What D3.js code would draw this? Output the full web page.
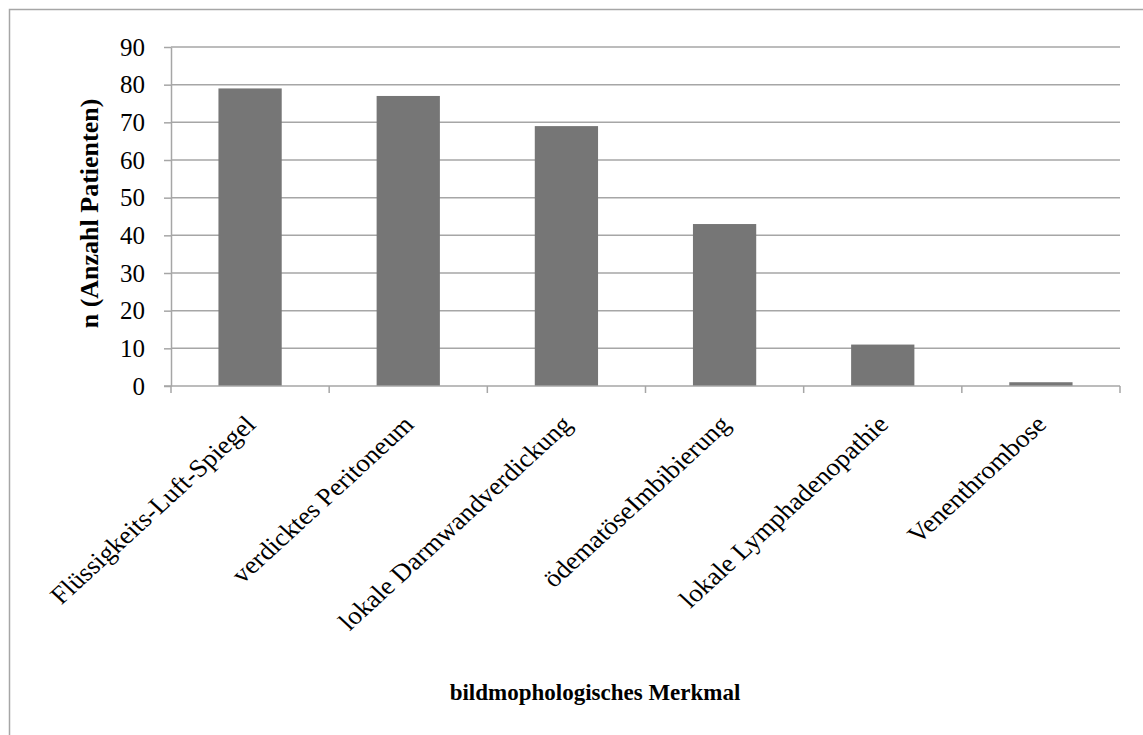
<!DOCTYPE html>
<html>
<head>
<meta charset="utf-8">
<script src="https://cdn.jsdelivr.net/npm/d3@7"></script>
<style>
  body { margin: 0; background: #fff; }
  svg text { font-family: "Liberation Serif", "Times New Roman", serif; fill: #000; }
</style>
</head>
<body>
<div id="main"></div>
<script>
const categories = ["Flüssigkeits-Luft-Spiegel", "verdicktes Peritoneum", "lokale Darmwandverdickung",
    "ödematöseImbibierung", "lokale Lymphadenopathie", "Venenthrombose"];
const patients = [79, 77, 69, 43, 11, 1];
const yTicks = [0, 10, 20, 30, 40, 50, 60, 70, 80, 90];
const yTitle = "n (Anzahl Patienten)";
const xTitle = "bildmophologisches Merkmal";

onload = () => {
    const d3 = window.d3;
    let svg = d3.select("#main").append("svg")
        .attr("width", 1143).attr("height", 735);

    // outer frame
    svg.append("rect")
        .attr("x", 9.5).attr("y", 9.5)
        .attr("width", 1143).attr("height", 740)
        .attr("fill", "none").attr("stroke", "#a6a6a6").attr("stroke-width", 1.5);

    const left = 171, right = 1120, top = 47, bottom = 386;

    let yScale = d3.scaleLinear().domain([0, 90]).range([bottom, top]);
    let xScale = d3.scaleBand().domain(categories).range([left, right])
        .paddingInner(0.6).paddingOuter(0.3);
    let xBand = d3.scaleBand().domain(categories).range([left, right]);

    // grid
    svg.append("g").selectAll("line").data(yTicks.filter(d => d > 0)).join("line")
        .attr("x1", left).attr("x2", right)
        .attr("y1", d => yScale(d)).attr("y2", d => yScale(d))
        .attr("stroke", "#a6a6a6").attr("stroke-width", 1.5);

    // bars
    svg.append("g").selectAll("rect").data(patients).join("rect")
        .attr("x", (d, i) => xScale(categories[i]))
        .attr("width", xScale.bandwidth())
        .attr("y", d => yScale(d))
        .attr("height", d => bottom - yScale(d))
        .attr("fill", "#767676");

    // y axis
    let axisLeft = d3.axisLeft(yScale).tickValues(yTicks).tickSizeInner(7).tickSizeOuter(0).tickPadding(19);
    let yg = svg.append("g").attr("transform", `translate(${left},0)`).call(axisLeft);
    yg.selectAll("path, line").attr("stroke", "#a6a6a6").attr("stroke-width", 1.5);
    yg.selectAll("text").style("font-size", "25px").style("font-family", "Liberation Serif").attr("fill", "#000");

    // x axis with ticks at band boundaries
    let xg = svg.append("g");
    xg.append("line").attr("x1", left - 7).attr("x2", right).attr("y1", bottom).attr("y2", bottom)
        .attr("stroke", "#a6a6a6").attr("stroke-width", 1.5);
    let bounds = categories.map(c => xBand(c)).concat([right]);
    xg.selectAll(".tk").data(bounds).join("line").classed("tk", true)
        .attr("x1", d => d).attr("x2", d => d).attr("y1", bottom).attr("y2", bottom + 7)
        .attr("stroke", "#a6a6a6").attr("stroke-width", 1.5);
    // labels are slightly stretched sideways in the original
    xg.selectAll(".lbl").data(categories).join("text").classed("lbl", true)
        .attr("text-anchor", "end")
        .attr("transform", d => `translate(${xBand(d) + xBand.bandwidth() / 2 + 7},${bottom + 40}) scale(1.09,1) rotate(-45)`)
        .style("font-size", "25px")
        .text(d => d);

    // titles
    svg.append("text")
        .attr("transform", `translate(98,${(97 + 330) / 2}) rotate(-90)`)
        .attr("text-anchor", "middle")
        .style("font-size", "26px").style("font-weight", "bold")
        .text(yTitle);
    svg.append("text")
        .attr("x", 595).attr("y", 700)
        .attr("text-anchor", "middle")
        .style("font-size", "23px").style("font-weight", "bold")
        .text(xTitle);
};
</script>
</body>
</html>
